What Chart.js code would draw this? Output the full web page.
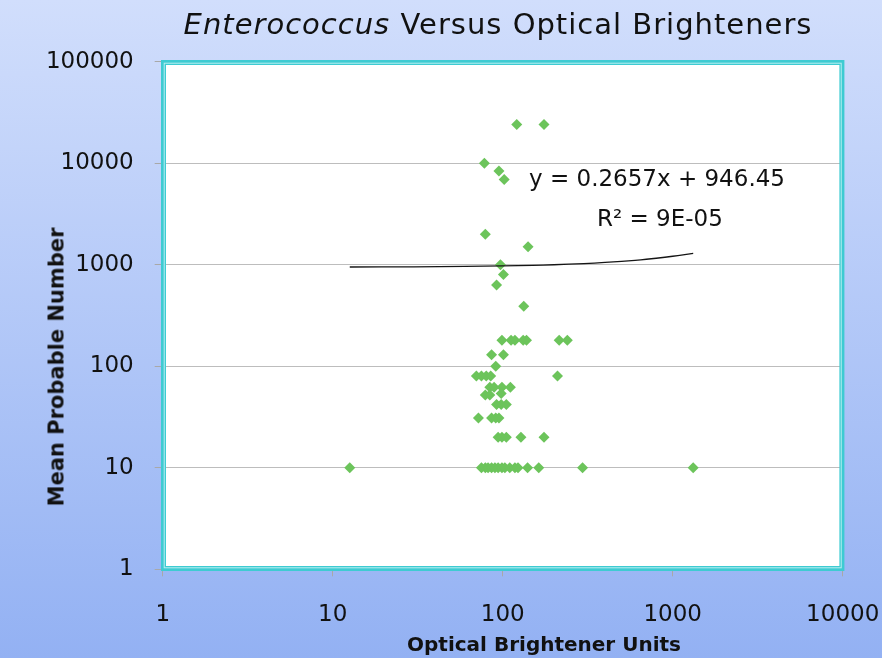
<!DOCTYPE html>
<html>
<head>
<meta charset="utf-8">
<script src="https://cdn.jsdelivr.net/npm/chart.js@4"></script>
<style>
  html, body { margin: 0; padding: 0; }
  #wrap {
    position: relative; width: 882px; height: 658px; overflow: hidden;
    background: linear-gradient(to bottom, #d1defc 0%, #93b1f3 100%);
    font-family: "DejaVu Sans", sans-serif; color: #111;
  }
  #chart { position: absolute; left: 0; top: 0; }
  .title {
    position: absolute; top: 10px; left: 498px; transform: translateX(-50%);
    font-size: 29px; line-height: 29px; white-space: nowrap; letter-spacing: 1px;
  }
  .note { position: absolute; font-size: 23px; line-height: 23px; white-space: nowrap; }
  .axt { position: absolute; font-weight: bold; white-space: nowrap; }
  .xt { left: 544px; top: 634px; font-size: 20px; line-height: 20px; transform: translateX(-50%); }
  .yt { left: 56.7px; top: 366.5px; font-size: 21px; line-height: 21px;
        transform: translate(-50%, -50%) rotate(-90deg); }
</style>
</head>
<body>
<div id="wrap">
  <canvas id="chart" width="882" height="658"></canvas>
  <div class="title"><i>Enterococcus</i> Versus Optical Brighteners</div>
  <div class="note" style="left:529px; top:167px;">y = 0.2657x + 946.45</div>
  <div class="note" style="left:597px; top:207px;">R² = 9E-05</div>
  <div class="axt xt">Optical Brightener Units</div>
  <div class="axt yt">Mean Probable Number</div>
</div>
<script>
// Optical brightener units (x) and Enterococcus MPN (y)
const xValues = [121, 175, 78, 95, 102, 79, 141, 97, 101, 92, 133,
  99, 112, 118, 132, 138, 215, 240,
  86, 101,
  91,
  70, 75, 80, 85, 210,
  84, 89, 99, 111,
  79, 84, 98,
  92, 98, 105,
  72, 86, 91, 95,
  94, 99, 105, 128, 175,
  12.6, 75, 79, 82, 86, 90, 94, 99, 103, 110, 118, 123, 140, 163, 295, 1320];
const yValues = [24000, 24000, 10000, 8400, 6900, 2000, 1500, 1000, 800, 630, 390,
  180, 180, 180, 180, 180, 180, 180,
  130, 130,
  100,
  80, 80, 80, 80, 80,
  62, 62, 62, 62,
  52, 52, 54,
  42, 42, 42,
  31, 31, 31, 31,
  20, 20, 20, 20, 20,
  10, 10, 10, 10, 10, 10, 10, 10, 10, 10, 10, 10, 10, 10, 10, 10];
// Linear trendline (y = 0.2657x + 946.45)
const trendX = [12.6, 30, 60, 100, 150, 200, 300, 400, 500, 600, 700, 800, 900, 1000, 1150, 1320];
const trendY = [949.8, 954.4, 962.4, 973.0, 986.3, 999.6, 1026.2, 1052.7, 1079.3, 1105.9, 1132.4, 1159.0, 1185.6, 1212.2, 1252.0, 1297.2];
const xTicks = [1, 10, 100, 1000, 10000];
const yTicks = [1, 10, 100, 1000, 10000, 100000];

const pts = xValues.map((x, i) => ({ x: x, y: yValues[i] }));
const trend = trendX.map((x, i) => ({ x: x, y: trendY[i] }));

const framePlugin = {
  id: 'frame',
  beforeDraw(chart) {
    const { ctx, chartArea: a } = chart;
    ctx.save();
    ctx.fillStyle = '#ffffff';
    ctx.fillRect(a.left, a.top, a.right - a.left, a.bottom - a.top);
    ctx.restore();
  },
  afterDraw(chart) {
    const { ctx, chartArea: a } = chart;
    ctx.save();
    ctx.lineWidth = 5;
    ctx.strokeStyle = '#3ecbd2';
    ctx.strokeRect(a.left + 0.8, a.top + 0.8, a.right - a.left - 1.6, a.bottom - a.top - 1.6);
    ctx.lineWidth = 1;
    ctx.strokeStyle = '#b8eef1';
    ctx.strokeRect(a.left + 1.5, a.top + 1.5, a.right - a.left - 3, a.bottom - a.top - 3);
    ctx.restore();
  }
};

const tickFont = { family: 'DejaVu Sans', size: 23 };

new Chart(document.getElementById('chart'), {
  type: 'scatter',
  data: {
    datasets: [
      { label: 'Trend', data: trend, showLine: true, borderColor: '#151515', borderWidth: 1.3,
        pointRadius: 0, fill: false, tension: 0.3 },
      { label: 'Samples', data: pts, backgroundColor: '#6cc45b', borderWidth: 0,
        pointStyle: 'rectRot', pointRadius: 5.5 }
    ]
  },
  options: {
    responsive: false,
    animation: false,
    devicePixelRatio: 1,
    layout: { padding: { left: 30, right: 39.3, top: 61.7, bottom: 2 } },
    plugins: { legend: { display: false }, tooltip: { enabled: false }, title: { display: false } },
    scales: {
      x: {
        type: 'logarithmic', min: 1, max: 10000, position: 'bottom',
        afterBuildTicks: s => { s.ticks = xTicks.map(v => ({ value: v })); },
        afterFit: s => { s.height = 86.7; s.paddingLeft = 0; s.paddingRight = 0; },
        ticks: { font: tickFont, color: '#111', padding: 25, maxRotation: 0, autoSkip: false,
                 callback: v => String(v) },
        grid: { drawOnChartArea: false, drawTicks: true, tickLength: 7, tickColor: '#a8a8a8' },
        border: { display: false },
        title: { display: false }
      },
      y: {
        type: 'logarithmic', min: 1, max: 100000,
        afterBuildTicks: s => { s.ticks = yTicks.map(v => ({ value: v })); },
        afterFit: s => { s.width = 132.7; s.paddingTop = 0; s.paddingBottom = 0; },
        ticks: { font: tickFont, color: '#111', padding: 21, autoSkip: false,
                 callback: v => String(v) },
        grid: { color: '#bdbdbd', lineWidth: 1, drawTicks: true, tickLength: 8, tickColor: '#a8a8a8' },
        border: { display: false },
        title: { display: false }
      }
    }
  },
  plugins: [framePlugin]
});
</script>
</body>
</html>
